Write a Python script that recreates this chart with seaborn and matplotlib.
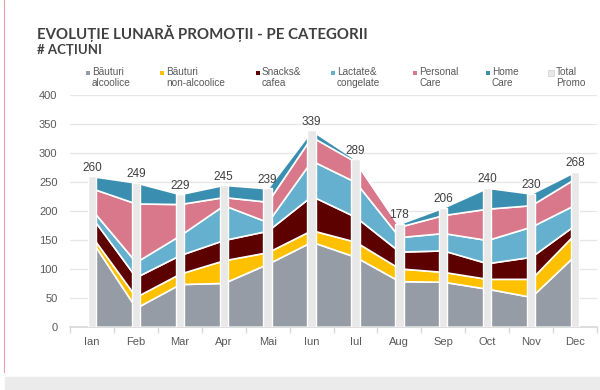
import numpy as np
import pandas as pd
import matplotlib
matplotlib.use("Agg")
import matplotlib.pyplot as plt
from matplotlib.lines import Line2D
from matplotlib.patches import Rectangle
import seaborn as sns

# ---- data ----
months = ["Ian", "Feb", "Mar", "Apr", "Mai", "Iun", "Iul", "Aug", "Sep", "Oct", "Nov", "Dec"]
bauturi_alcoolice = [148, 33, 74, 76, 109, 147, 121, 79, 78, 66, 52, 124]
bauturi_non_alcoolice = [8, 19, 18, 39, 20, 20, 26, 22, 17, 17, 31, 37]
snacks_cafea = [33, 34, 32, 35, 37, 59, 43, 29, 37, 27, 38, 15]
lactate_congelate = [13, 26, 34, 60, 15, 61, 60, 25, 30, 40, 52, 35]
personal_care = [37, 101, 54, 14, 35, 41, 35, 18, 31, 54, 37, 45]
home_care = [21, 36, 17, 21, 23, 11, 4, 5, 13, 36, 20, 12]
total_promo = [260, 249, 229, 245, 239, 339, 289, 178, 206, 240, 230, 268]

series_names = ["Băuturi\nalcoolice", "Băuturi\nnon-alcoolice", "Snacks&\ncafea",
                "Lactate&\ncongelate", "Personal\nCare", "Home\nCare"]
series_colors = ["#959ca5", "#ffc000", "#5c0000", "#64b0ce", "#d8788a", "#3a8fb0"]
total_name = "Total\nPromo"
total_color = "#e8e8e8"

df = pd.DataFrame({"Luna": months, "Total": total_promo})

# ---- style ----
sns.set_theme(style="white")
plt.rcParams["font.family"] = ["Liberation Sans", "DejaVu Sans"]
text_gray = "#595959"
W, H = 600, 390

fig = plt.figure(figsize=(6, 3.9), dpi=100)
ax = fig.add_axes([70 / W, 1 - 327 / H, 527 / W, 232 / H])

x = np.arange(len(months))
ax.stackplot(x, bauturi_alcoolice, bauturi_non_alcoolice, snacks_cafea,
             lactate_congelate, personal_care, home_care,
             colors=series_colors, edgecolor="white", linewidth=1.2, zorder=2)

# total promo drawn as narrow columns in front of the areas
sns.barplot(data=df, x="Luna", y="Total", color=total_color, width=0.19,
            saturation=1, ax=ax, zorder=3)

for i, v in enumerate(total_promo):
    ax.text(i, v + 4, str(v), ha="center", va="bottom", fontsize=8.5, color="#404040")

ax.set_xlim(-0.5, 11.5)
ax.set_ylim(0, 400)
ax.set_yticks(range(0, 401, 50))
ax.yaxis.grid(True, color="#e6e6e6", linewidth=0.9)
ax.set_axisbelow(True)
ax.set_xlabel("")
ax.set_ylabel("")
for s in ["top", "right", "left"]:
    ax.spines[s].set_visible(False)
ax.spines["bottom"].set_color("#d9d9d9")
ax.tick_params(axis="both", labelsize=8, colors=text_gray, length=0)
ax.tick_params(axis="y", pad=9)
ax.tick_params(axis="x", pad=7)
ax.set_xticks(np.arange(-0.5, 12, 1), minor=True)
ax.tick_params(axis="x", which="minor", length=4, color="#d9d9d9", bottom=True)

# legend, laid out like the Excel one (marker beside first line)
leg_marker_x = [88, 162, 258, 333, 415, 488, 551]
leg_y = 73
for k, (name, col) in enumerate(zip(series_names + [total_name], series_colors + [total_color])):
    mx = leg_marker_x[k]
    if k < len(series_names):
        sz = 3.5
        fig.add_artist(Rectangle(((mx - sz / 2) / W, 1 - (leg_y + sz / 2) / H), sz / W, sz / H,
                                 transform=fig.transFigure, facecolor=col, edgecolor="none"))
        tx = mx + 4
    else:
        sz = 6
        fig.add_artist(Rectangle(((mx - sz / 2) / W, 1 - (leg_y + sz / 2) / H), sz / W, sz / H,
                                 transform=fig.transFigure, facecolor=col,
                                 edgecolor="#d0d0d0", linewidth=0.5))
        tx = mx + 5
    fig.text(tx / W, 1 - (leg_y - 6) / H, name, fontsize=7.2, color=text_gray,
             va="top", ha="left", linespacing=1.15)

# titles
fig.text(37 / W, 1 - 33 / H, "EVOLUȚIE LUNARĂ PROMOȚII - PE CATEGORII", fontsize=10.8,
         fontweight="bold", color="#404040", family=["Lato", "DejaVu Sans"], va="center")
fig.text(37 / W, 1 - 50 / H, "# ACȚIUNI", fontsize=9.5, fontweight="bold", color="#404040",
         family=["Lato", "DejaVu Sans"], va="center")

# slide decoration
fig.add_artist(Rectangle((0.008, 0.0), 0.992, 0.034, transform=fig.transFigure,
                         color="#ebebeb", zorder=0))
fig.add_artist(Line2D([0.007, 0.007], [0.045, 1.0], transform=fig.transFigure,
                      color="#e8a0a8", linewidth=0.8))

fig.savefig("out.png", dpi=100)
